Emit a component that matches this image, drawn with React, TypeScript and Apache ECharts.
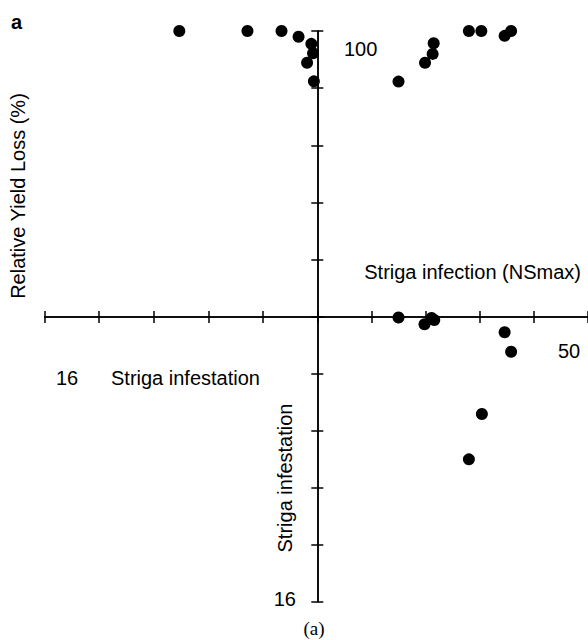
import React, { useEffect, useRef } from "react";
import * as echarts from "echarts";

// Upper-left quadrant: Striga infestation (leftwards) vs relative yield loss (%)
const tlInfestation = [8.1, 4.1, 2.1, 1.1, 0.35, 0.25, 0.6, 0.2];
const tlYieldLoss = [100, 100, 100, 98, 95.5, 92.2, 88.9, 82.4];
// Upper-right quadrant: Striga infection (NSmax) vs relative yield loss (%)
const trInfection = [28.0, 30.3, 34.6, 35.8, 21.5, 21.3, 19.9, 15.0];
const trYieldLoss = [100, 100, 98.3, 100, 95.7, 92.0, 88.9, 82.3];
// Lower-right quadrant: Striga infection (NSmax) vs Striga infestation (downwards)
const brInfection = [15.0, 19.8, 21.1, 21.6, 34.6, 35.8, 30.4, 28.0];
const brInfestation = [0.03, 0.41, 0.05, 0.17, 0.86, 1.95, 5.45, 8.0];

const infestMax = 16;
const infestStep = 3.2;
const lossMax = 100;
const lossStep = 20;
const infectMax = 50;
const infectStep = 10;

const SANS = "'Liberation Sans', Arial, Helvetica, sans-serif";
const SERIF = "'Liberation Serif', 'Times New Roman', serif";

function zip(a: number[], b: number[]) {
  return a.map((v, i) => [v, b[i]]);
}

export default function App() {
  const ref = useRef<HTMLDivElement>(null);

  useEffect(() => {
    if (!ref.current) return;
    const chart = echarts.init(ref.current, undefined, { renderer: "svg" });

    const L = 44.7;
    const C = 317.3;
    const W = C - L;
    const T = 31;
    const M = 317;
    const B = 601.7;

    const line = { show: true, lineStyle: { color: "#000", width: 1.5 } };
    const tick = { show: true, inside: false, length: 6, lineStyle: { color: "#000", width: 1.5 } };
    const hidden = { show: false };

    const baseAxis = (extra: any) => ({
      type: "value",
      axisLine: { ...line, onZero: false },
      axisTick: tick,
      axisLabel: hidden,
      splitLine: hidden,
      ...extra,
    });

    const dot = { color: "#000", opacity: 1 };
    const F = 20;

    chart.setOption({
      animation: false,
      backgroundColor: "#fff",
      grid: [
        { left: L, top: T, width: W, height: M - T },
        { left: C, top: T, width: W, height: M - T },
        { left: L, top: M, width: W, height: B - M },
        { left: C, top: M, width: W, height: B - M },
      ],
      xAxis: [
        baseAxis({ gridIndex: 0, position: "bottom", inverse: true, min: 0, max: infestMax, interval: infestStep }),
        baseAxis({ gridIndex: 1, position: "bottom", min: 0, max: infectMax, interval: infectStep }),
        baseAxis({ gridIndex: 2, position: "top", inverse: true, min: 0, max: infestMax, interval: infestStep }),
        baseAxis({ gridIndex: 3, position: "top", min: 0, max: infectMax, interval: infectStep }),
      ],
      yAxis: [
        baseAxis({ gridIndex: 0, position: "right", min: 0, max: lossMax, interval: lossStep }),
        baseAxis({ gridIndex: 1, position: "left", min: 0, max: lossMax, interval: lossStep }),
        baseAxis({ gridIndex: 2, position: "right", inverse: true, min: 0, max: infestMax, interval: infestStep }),
        baseAxis({ gridIndex: 3, position: "left", inverse: true, min: 0, max: infestMax, interval: infestStep }),
      ],
      series: [
        {
          type: "scatter",
          xAxisIndex: 0,
          yAxisIndex: 0,
          data: zip(tlInfestation, tlYieldLoss),
          symbolSize: 12,
          itemStyle: dot,
          clip: false,
        },
        {
          type: "scatter",
          xAxisIndex: 1,
          yAxisIndex: 1,
          data: zip(trInfection, trYieldLoss),
          symbolSize: 12,
          itemStyle: dot,
          clip: false,
        },
        {
          type: "scatter",
          xAxisIndex: 3,
          yAxisIndex: 3,
          data: zip(brInfection, brInfestation),
          symbolSize: 12,
          itemStyle: dot,
          clip: false,
        },
      ],
      graphic: [
        {
          type: "text",
          x: 11,
          y: 22,
          style: { text: "a", font: `bold 20px ${SANS}`, fill: "#000", verticalAlign: "middle" },
        },
        {
          type: "text",
          x: 18,
          y: 196,
          rotation: Math.PI / 2,
          style: {
            text: "Relative Yield Loss (%)",
            font: `${F}px ${SANS}`,
            fill: "#000",
            align: "center",
            verticalAlign: "middle",
          },
        },
        {
          type: "text",
          x: 344,
          y: 49,
          style: { text: "100", font: `${F}px ${SANS}`, fill: "#000", align: "left", verticalAlign: "middle" },
        },
        {
          type: "text",
          x: 581,
          y: 272,
          style: {
            text: "Striga infection (NSmax)",
            font: `${F}px ${SANS}`,
            fill: "#000",
            align: "right",
            verticalAlign: "middle",
          },
        },
        {
          type: "text",
          x: 558,
          y: 351,
          style: { text: "50", font: `${F}px ${SANS}`, fill: "#000", align: "left", verticalAlign: "middle" },
        },
        {
          type: "text",
          x: 56,
          y: 378,
          style: { text: "16", font: `${F}px ${SANS}`, fill: "#000", align: "left", verticalAlign: "middle" },
        },
        {
          type: "text",
          x: 111,
          y: 378,
          style: {
            text: "Striga infestation",
            font: `${F}px ${SANS}`,
            fill: "#000",
            align: "left",
            verticalAlign: "middle",
          },
        },
        {
          type: "text",
          x: 285,
          y: 478,
          rotation: Math.PI / 2,
          style: {
            text: "Striga infestation",
            font: `${F}px ${SANS}`,
            fill: "#000",
            align: "center",
            verticalAlign: "middle",
          },
        },
        {
          type: "text",
          x: 296,
          y: 599,
          style: { text: "16", font: `${F}px ${SANS}`, fill: "#000", align: "right", verticalAlign: "middle" },
        },
        {
          type: "text",
          x: 314,
          y: 628,
          style: { text: "(a)", font: `19px ${SERIF}`, fill: "#000", align: "center", verticalAlign: "middle" },
        },
      ],
    });

    return () => chart.dispose();
  }, []);

  return (
    <div
      ref={ref}
      style={{ position: "absolute", left: 0, top: 0, width: 588, height: 640, background: "#fff" }}
    />
  );
}
